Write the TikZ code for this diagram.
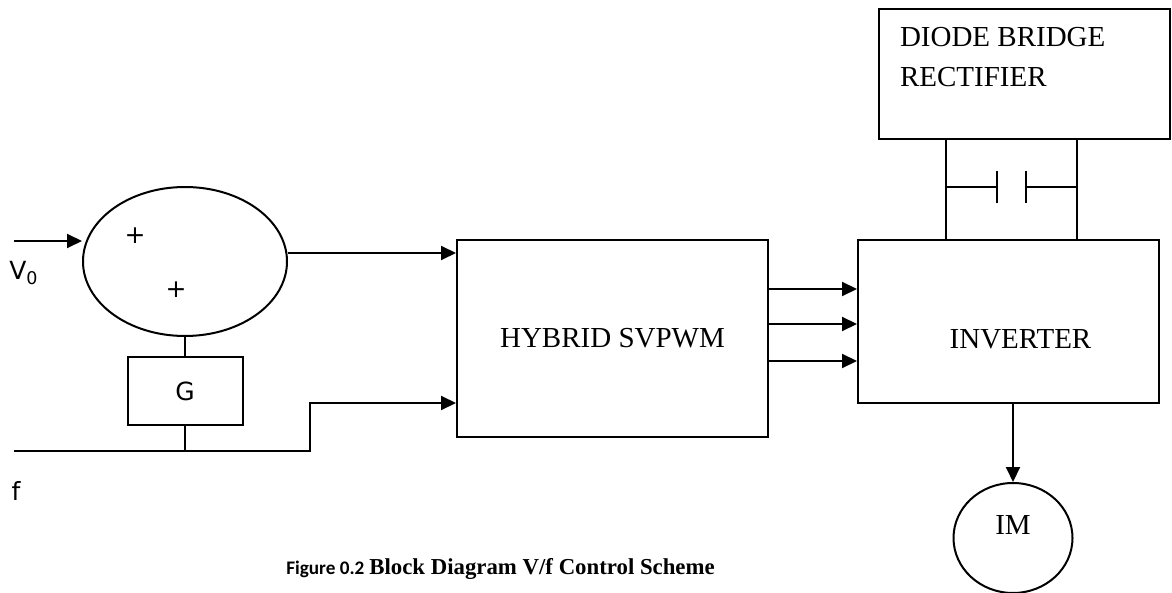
\documentclass[tikz,border=0pt]{standalone}
\usepackage{fontspec}
\setmainfont{Liberation Serif}
\newfontfamily\lblfont{DejaVu Sans}
\newfontfamily\capfont{Carlito}
\usetikzlibrary{shapes.geometric,arrows.meta}
\begin{document}
\begin{tikzpicture}[x=0.5pt,y=-0.5pt,line width=1pt,
  arr/.style={-{Triangle[length=7.5pt,width=7pt]}},
  blk/.style={draw,rectangle,inner sep=0pt},
  lbl/.style={font=\lblfont\fontsize{12.5}{14}\selectfont,inner sep=0pt},
  txt/.style={font=\fontsize{14.5}{20}\selectfont}]
\useasboundingbox (0,0) rectangle (1172,593);
% summing point and gain
\node[draw,ellipse,minimum width=102pt,minimum height=74.5pt,inner sep=0pt] (sum) at (185,261.5) {};
\node[lbl] (plusa) at (135,236) {+};
\node[lbl] (plusb) at (176,290) {+};
\node[blk,minimum width=57.5pt,minimum height=34pt,lbl] (gain) at (185,391) {G};
\node[lbl] (vlab) at (24,273) {V\textsubscript{0}};
\node[lbl] (flab) at (16,491) {f};
% main blocks
\node[blk,minimum width=155.5pt,minimum height=98.5pt,txt] (hyb) at (612.5,338.5) {HYBRID SVPWM};
\node[blk,minimum width=150.5pt,minimum height=81.5pt,
  label={[txt,xshift=6pt,yshift=-8.75pt]center:INVERTER}] (inv) at (1008.5,321.5) {};
\node[blk,minimum width=145.5pt,minimum height=65pt,
  label={[txt,anchor=north west,align=left,inner sep=0pt,xshift=10.5pt,yshift=-9pt]north west:DIODE BRIDGE\\RECTIFIER}] (rect) at (1024.5,74) {};
\node[draw,ellipse,minimum width=59.5pt,minimum height=55pt,inner sep=0pt,
  label={[txt,yshift=6.5pt]center:IM}] (im) at (1013,538) {};
% inputs
\coordinate (vin) at (14,241);
\coordinate (fin) at (14,451);
\coordinate (fstep) at (310,451);
\coordinate (hin) at (457,403);
\draw[arr] (vin) -- (sum.west |- vin);
\draw[arr] (sum.east |- 0,253) -- (hyb.west |- 0,253);
\draw (sum.south) -- (gain.north);
\draw (gain.south) -- (gain.south |- fin);
\draw[arr] (fin) -- (fstep) -- (fstep |- hin) -- (hyb.west |- hin);
% pwm signals
\foreach \y in {289,324,361}
  \draw[arr] (hyb.east |- 0,\y) -- (inv.west |- 0,\y);
% dc link with capacitor
\coordinate (dcl) at (946,187);
\coordinate (dcr) at (1077,187);
\coordinate (capl) at (997,187);
\coordinate (capr) at (1026,187);
\draw (dcl |- rect.south) -- (dcl |- inv.north);
\draw (dcr |- rect.south) -- (dcr |- inv.north);
\draw (dcl) -- (capl);
\draw (capr) -- (dcr);
\draw ([yshift=8pt]capl) -- ([yshift=-8pt]capl);
\draw ([yshift=8pt]capr) -- ([yshift=-8pt]capr);
% motor
\draw[arr] (im.north |- inv.south) -- (im.north);
% caption
\node[anchor=base,inner sep=0pt] (cap) at (500.5,574)
  {{\capfont\bfseries\fontsize{9.6}{12}\selectfont Figure 0.2} {\bfseries\fontsize{11.4}{14}\selectfont Block Diagram V/f Control Scheme}};
\end{tikzpicture}
\end{document}
